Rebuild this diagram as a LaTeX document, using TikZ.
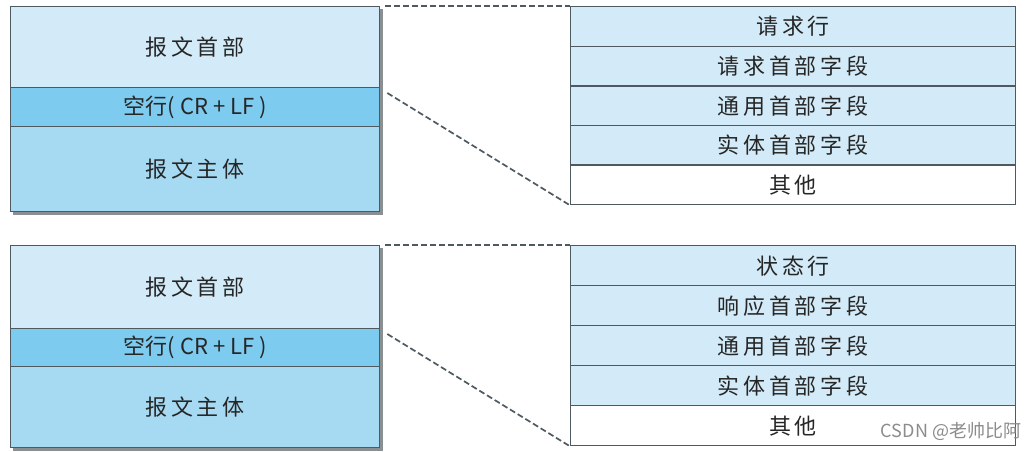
\documentclass[tikz,border=0pt]{standalone}
\usepackage{fontspec}
\setmainfont{Noto Sans CJK SC}
\usetikzlibrary{backgrounds,calc}
\definecolor{hdr}{HTML}{D3EBF8}
\definecolor{blank}{HTML}{7DCCF0}
\definecolor{body}{HTML}{A6D9F2}
\definecolor{edge}{HTML}{4E5A60}
\definecolor{txt}{HTML}{262626}
\definecolor{shadowc}{HTML}{8A8F92}
\definecolor{wm}{HTML}{8C8C8C}
\begin{document}
\begin{tikzpicture}[x=1pt,y=-1pt,
  cell/.style={draw=edge,line width=1.3pt,anchor=north west,inner sep=0pt,
    text=txt,font=\fontsize{22}{25}\selectfont},
  lcell/.style={cell,minimum width=369pt},
  rcell/.style={cell,minimum width=445pt},
  link/.style={draw=edge,line width=1.7pt,dash pattern=on 6pt off 3pt}]
\useasboundingbox (0,0) rectangle (1036,451);
% top left stack
\node[lcell,fill=hdr,minimum height=81pt] (h1) at (10,6) {报\,文\,首\,部};
\node[lcell,fill=blank,minimum height=39pt] (k1) at (10,87) {空行(\ CR\ +\ LF\ )};
\node[lcell,fill=body,minimum height=85pt] (b1) at (10,126) {报\,文\,主\,体};
% top right stack
\node[rcell,fill=hdr,minimum height=39.6pt] (r11) at (570,6) {请\,求\,行};
\node[rcell,fill=hdr,minimum height=39.6pt] (r12) at (570,45.6) {请\,求\,首\,部\,字\,段};
\node[rcell,fill=hdr,minimum height=39.6pt] (r13) at (570,85.2) {通\,用\,首\,部\,字\,段};
\node[rcell,fill=hdr,minimum height=39.6pt] (r14) at (570,124.8) {实\,体\,首\,部\,字\,段};
\node[rcell,fill=white,minimum height=39.6pt] (r15) at (570,164.4) {其\,他};
% bottom left stack
\node[lcell,fill=hdr,minimum height=83pt] (h2) at (10,245) {报\,文\,首\,部};
\node[lcell,fill=blank,minimum height=38pt] (k2) at (10,328) {空行(\ CR\ +\ LF\ )};
\node[lcell,fill=body,minimum height=81pt] (b2) at (10,366) {报\,文\,主\,体};
% bottom right stack
\node[rcell,fill=hdr,minimum height=40pt] (r21) at (570,245) {状\,态\,行};
\node[rcell,fill=hdr,minimum height=40pt] (r22) at (570,285) {响\,应\,首\,部\,字\,段};
\node[rcell,fill=hdr,minimum height=40pt] (r23) at (570,325) {通\,用\,首\,部\,字\,段};
\node[rcell,fill=hdr,minimum height=40pt] (r24) at (570,365) {实\,体\,首\,部\,字\,段};
\node[rcell,fill=white,minimum height=40pt] (r25) at (570,405) {其\,他};
% shadows
\begin{scope}[on background layer]
\fill[shadowc] ($(h1.north west)+(3,3)$) rectangle ($(b1.south east)+(3,3)$);
\fill[shadowc] ($(h2.north west)+(3,3)$) rectangle ($(b2.south east)+(3,3)$);
\end{scope}
% dashed connectors
\draw[link] ($(h1.north east)+(5,0)$) -- (r11.north west);
\draw[link] ($(k1.north east)+(7,6)$) -- (r15.south west);
\draw[link] ($(h2.north east)+(5,0)$) -- (r21.north west);
\draw[link] ($(k2.north east)+(7,6)$) -- (r25.south west);
% watermark
\node[text=wm,font=\fontsize{18}{20}\selectfont,anchor=center] (wm) at (951,431) {CSDN @老帅比阿};
\end{tikzpicture}
\end{document}
